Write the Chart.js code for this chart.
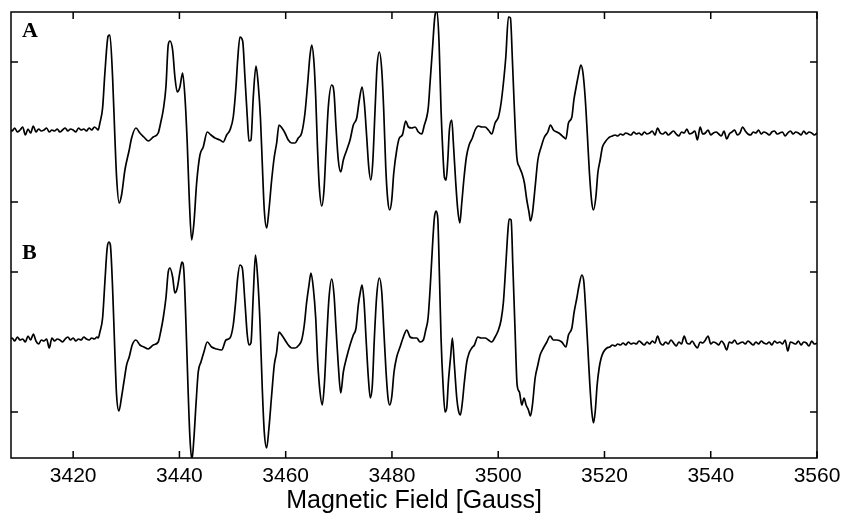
<!DOCTYPE html>
<html>
<head>
<meta charset="utf-8">
<script src="https://cdn.jsdelivr.net/npm/chart.js@4.4.1/dist/chart.umd.min.js"></script>
<style>
  html, body { margin: 0; padding: 0; background: #ffffff; }
  #wrap { width: 844px; height: 516px; }
</style>
</head>
<body>
<div id="wrap"><canvas id="eprChart"></canvas></div>
<script>
// Field axis (Gauss) and tick labels
const fieldMin = 3408.3;
const fieldMax = 3560;
const fieldTicks = [3420, 3440, 3460, 3480, 3500, 3520, 3540, 3560];
const ampTicks = [-70, 70]; // unlabeled tick marks on each trace

// Flat noisy baseline below the signal
const baseLeftField = [
  3408, 3408.5, 3409, 3409.5, 3410, 3410.5, 3411, 3411.5, 3412, 3412.5,
  3413, 3413.5, 3414, 3414.5, 3415, 3415.5, 3416, 3416.5, 3417, 3417.5,
  3418, 3418.5, 3419, 3419.5, 3420, 3420.5, 3421, 3421.5, 3422, 3422.5,
  3423, 3423.5, 3424, 3424.5
];
const baseLeftA = [
  3, 1, 4, 0, 2, 5, -3, 3, -1, 6,
  0, 3, 1, 2, 4, 0, 2, 1, 3, 0,
  2, 4, 1, 3, 2, 0, 4, 2, 3, 1,
  4, 2, 5, 3
];
const baseLeftB = [
  3, 4, 1, 5, 2, 3, 0, 6, 2, 8,
  1, -2, 2, 1, 3, -6, 4, 1, 3, 2,
  0, 3, 5, 2, 4, 1, 3, 2, 5, 3,
  2, 4, 3, 5
];

// Flat noisy baseline above the signal
const baseRightField = [
  3521, 3521.5, 3522, 3522.5, 3523, 3523.5, 3524, 3524.5, 3525, 3525.5,
  3526, 3526.5, 3527, 3527.5, 3528, 3528.5, 3529, 3529.5, 3530, 3530.5,
  3531, 3531.5, 3532, 3532.5, 3533, 3533.5, 3534, 3534.5, 3535, 3535.5,
  3536, 3536.5, 3537, 3537.5, 3538, 3538.5, 3539, 3539.5, 3540, 3540.5,
  3541, 3541.5, 3542, 3542.5, 3543, 3543.5, 3544, 3544.5, 3545, 3545.5,
  3546, 3546.5, 3547, 3547.5, 3548, 3548.5, 3549, 3549.5, 3550, 3550.5,
  3551, 3551.5, 3552, 3552.5, 3553, 3553.5, 3554, 3554.5, 3555, 3555.5,
  3556, 3556.5, 3557, 3557.5, 3558, 3558.5, 3559, 3559.5, 3560
];
const baseRightA = [
  -5, -4, -3, -4, -2, -3, -1, -2, -3, 0,
  -2, -1, -3, 0, -2, -1, 1, -3, 4, -1,
  -2, 0, -3, -1, 1, -2, -4, 0, -1, 3,
  -2, -1, 1, -8, 5, -2, -1, 2, -3, -1,
  0, -2, -4, 1, -7, -2, 0, 2, -3, -1,
  5, 1, -2, -3, 0, -1, 2, -2, 0, -1,
  -3, 0, 1, -2, -1, 0, -4, -1, 1, -2,
  0, -1, -3, 1, -2, 0, -1, -3, -1
];
const baseRightB = [
  -5, -3, -4, -2, -3, -1, -3, 0, -2, -1,
  -2, 1, -1, -3, 0, -2, 1, -1, 6, -1,
  -3, 0, -2, 2, -1, -4, 0, -2, 6, -1,
  -2, 1, -3, -6, 0, -1, 2, 6, -2, 0,
  -1, -3, 1, -2, -8, 0, -1, 2, -2, -1,
  0, -2, 1, -1, -3, 0, -2, 1, -1, -2,
  0, -3, 1, -1, 0, -2, 2, -9, 0, -1,
  -2, 1, -3, 0, -1, -4, 1, -2, -1
];

// Spectrum A: hyperfine lines
const sigFieldA = [
  3424.71, 3425.03, 3425.54, 3425.97, 3426.59, 3426.91, 3427.42, 3427.85, 3428.17, 3428.66,
  3429.11, 3429.74, 3430.55, 3431.00, 3431.81, 3432.56, 3433.31, 3434.12, 3435.07, 3436.01,
  3436.46, 3436.95, 3437.46, 3437.89, 3438.21, 3438.72, 3439.15, 3439.59, 3440.09, 3440.60,
  3441.04, 3441.47, 3441.84, 3442.30, 3442.73, 3443.24, 3443.86, 3444.48, 3445.24, 3445.93,
  3446.69, 3447.63, 3448.25, 3448.89, 3449.51, 3450.13, 3450.64, 3450.96, 3451.39, 3451.90,
  3452.33, 3452.77, 3453.09, 3453.46, 3453.90, 3454.41, 3454.84, 3455.25, 3455.59, 3455.97,
  3456.42, 3456.85, 3457.36, 3457.85, 3458.30, 3458.74, 3459.30, 3459.87, 3460.49, 3461.13,
  3461.75, 3462.37, 3463.01, 3463.63, 3464.14, 3464.58, 3464.90, 3465.33, 3465.65, 3465.95,
  3466.33, 3466.78, 3467.21, 3467.59, 3468.02, 3468.66, 3469.10, 3469.47, 3469.90, 3470.36,
  3470.85, 3471.49, 3472.11, 3472.73, 3473.37, 3473.86, 3474.37, 3474.80, 3475.25, 3475.63,
  3476.01, 3476.38, 3476.82, 3477.19, 3477.63, 3478.08, 3478.45, 3478.83, 3479.21, 3479.58,
  3479.96, 3480.34, 3480.90, 3481.39, 3481.96, 3482.60, 3483.09, 3483.73, 3484.35, 3484.97,
  3485.61, 3486.10, 3486.55, 3486.85, 3487.17, 3487.61, 3488.11, 3488.49, 3488.87, 3489.24,
  3489.56, 3489.87, 3490.19, 3490.51, 3490.81, 3491.26, 3491.56, 3492.01, 3492.39, 3492.77,
  3493.14, 3493.58, 3494.01, 3494.52, 3495.14, 3495.65, 3496.27, 3496.91, 3497.53, 3498.15,
  3498.79, 3499.41, 3500.04, 3500.54, 3500.98, 3501.43, 3501.92, 3502.30, 3502.67, 3503.05,
  3503.50, 3503.99, 3504.44, 3504.93, 3505.38, 3505.82, 3506.06, 3506.44, 3506.95, 3507.46,
  3508.08, 3508.70, 3509.34, 3509.83, 3510.39, 3511.03, 3511.65, 3512.28, 3512.73, 3513.22,
  3513.86, 3514.24, 3514.67, 3515.10, 3515.55, 3515.93, 3516.36, 3516.80, 3517.17, 3517.62,
  3517.93, 3518.38, 3518.75, 3519.19, 3519.62, 3520.13, 3520.75
];
const sigA = [
  2, 9, 24, 59, 96, 97, 55, -5, -45, -71,
  -63, -38, -18, -6, 4, -1, -5, -9, -5, -1,
  9, 22, 45, 87, 91, 82, 55, 40, 45, 59,
  35, -11, -65, -108, -91, -51, -23, -15, 0, -3,
  -6, -8, -10, -3, 2, 15, 45, 72, 95, 91,
  55, 15, -9, -8, 35, 66, 47, 14, -31, -78,
  -96, -78, -48, -25, -11, 7, 4, -1, -8, -11,
  -11, -6, -1, 19, 49, 77, 87, 69, 35, -11,
  -55, -74, -58, -18, 25, 47, 39, 5, -28, -40,
  -28, -18, -8, 7, 14, 32, 45, 29, -5, -35,
  -48, -31, 22, 65, 80, 62, 22, -35, -68, -78,
  -68, -41, -18, -6, -3, 11, 5, 4, 5, 0,
  -2, 7, 15, 25, 49, 82, 117, 121, 89, 22,
  -18, -45, -48, -28, 2, 12, -11, -51, -78, -91,
  -71, -45, -25, -13, -6, 2, 6, 5, 5, 2,
  -2, 9, 15, 29, 49, 75, 115, 114, 72, 22,
  -25, -35, -41, -51, -68, -81, -89, -81, -55, -28,
  -15, -5, 0, 7, 2, 0, -2, -5, -7, 9,
  15, 32, 45, 57, 67, 60, 35, -5, -41, -71,
  -78, -65, -41, -28, -15, -10, -6
];

// Spectrum B
const sigFieldB = [
  3424.71, 3425.03, 3425.54, 3425.97, 3426.40, 3426.72, 3427.00, 3427.42, 3427.80, 3428.17,
  3428.61, 3429.11, 3429.55, 3430.06, 3430.55, 3431.11, 3431.81, 3432.56, 3433.31, 3434.12,
  3435.07, 3436.01, 3436.46, 3436.95, 3437.46, 3437.89, 3438.21, 3438.72, 3439.15, 3439.59,
  3440.09, 3440.47, 3440.85, 3441.22, 3441.60, 3441.98, 3442.35, 3442.73, 3443.11, 3443.54,
  3444.05, 3444.61, 3445.24, 3446.06, 3447.00, 3447.95, 3448.76, 3449.51, 3450.13, 3450.58,
  3450.96, 3451.39, 3451.83, 3452.33, 3452.77, 3453.09, 3453.46, 3453.90, 3454.31, 3454.73,
  3455.16, 3455.59, 3455.97, 3456.42, 3456.85, 3457.36, 3457.85, 3458.30, 3458.74, 3459.25,
  3459.87, 3460.49, 3461.13, 3461.75, 3462.50, 3463.01, 3463.50, 3463.95, 3464.39, 3464.76,
  3465.20, 3465.65, 3466.03, 3466.46, 3466.89, 3467.27, 3467.72, 3468.15, 3468.66, 3469.10,
  3469.47, 3469.90, 3470.36, 3470.85, 3471.49, 3472.11, 3472.73, 3473.24, 3473.67, 3474.05,
  3474.37, 3474.75, 3475.12, 3475.56, 3475.93, 3476.31, 3476.69, 3477.14, 3477.63, 3478.08,
  3478.45, 3478.89, 3479.26, 3479.58, 3479.96, 3480.39, 3480.90, 3481.52, 3482.15, 3482.79,
  3483.41, 3484.03, 3484.67, 3485.29, 3485.91, 3486.36, 3486.80, 3487.17, 3487.61, 3487.98,
  3488.30, 3488.62, 3488.92, 3489.24, 3489.62, 3489.99, 3490.31, 3490.62, 3491.07, 3491.37,
  3491.75, 3492.20, 3492.50, 3492.88, 3493.26, 3493.63, 3494.08, 3494.52, 3495.03, 3495.52,
  3496.16, 3496.78, 3497.53, 3498.15, 3498.79, 3499.41, 3500.04, 3500.54, 3500.98, 3501.43,
  3501.81, 3502.05, 3502.43, 3502.75, 3503.18, 3503.56, 3503.99, 3504.44, 3504.87, 3505.25,
  3505.69, 3506.06, 3506.44, 3506.95, 3507.46, 3507.89, 3508.51, 3509.15, 3509.77, 3510.39,
  3511.03, 3511.97, 3512.73, 3513.22, 3513.86, 3514.29, 3514.80, 3515.23, 3515.74, 3516.12,
  3516.49, 3516.87, 3517.25, 3517.62, 3517.93, 3518.25, 3518.62, 3519.00, 3519.38, 3519.81,
  3520.45
];
const sigB = [
  4, 10, 24, 60, 94, 100, 97, 54, -3, -53,
  -69, -55, -40, -23, -15, -3, 2, -3, -5, -7,
  -3, 0, 10, 24, 44, 70, 74, 65, 49, 54,
  70, 80, 70, 20, -43, -96, -118, -96, -63, -30,
  -20, -10, 0, -5, -7, -8, 2, 4, 17, 40,
  64, 77, 74, 40, 7, -3, -1, 47, 87, 64,
  20, -46, -90, -106, -86, -53, -23, -10, 10, 7,
  2, -3, -6, -6, -3, 2, 17, 40, 57, 69,
  54, 24, -20, -50, -63, -43, 4, 44, 63, 47,
  14, -23, -51, -30, -15, -3, 7, 14, 37, 50,
  57, 40, 4, -36, -56, -43, 4, 47, 64, 50,
  14, -30, -56, -63, -55, -30, -15, -5, 5, 12,
  5, 4, 4, 0, 2, 12, 24, 52, 94, 124,
  131, 124, 70, 4, -43, -70, -66, -40, -13, 4,
  -23, -56, -68, -73, -60, -40, -20, -11, -6, -3,
  5, 4, 4, 2, 0, 5, 12, 22, 40, 77,
  110, 123, 122, 77, 10, -43, -50, -63, -56, -63,
  -68, -74, -63, -36, -23, -13, -6, 0, 6, 2,
  2, 0, -5, 7, 14, 30, 44, 57, 67, 60,
  30, -6, -43, -70, -81, -70, -43, -26, -16, -10,
  -6
];

// glue baseline + signal + baseline into one trace
function buildTrace(leftVals, sigField, sigVals, rightVals) {
  const pts = [];
  baseLeftField.forEach((f, i) => pts.push({ x: f, y: leftVals[i] }));
  sigField.forEach((f, i) => pts.push({ x: f, y: sigVals[i] }));
  baseRightField.forEach((f, i) => pts.push({ x: f, y: rightVals[i] }));
  return pts;
}

// frame, inward tick marks and the panel letters
const framePlugin = {
  id: "frame",
  afterDatasetsDraw(chart) {
    const { ctx, chartArea: a, scales } = chart;
    ctx.save();
    ctx.strokeStyle = "#000";
    ctx.lineWidth = 1.5;
    ctx.strokeRect(a.left, a.top, a.right - a.left, a.bottom - a.top);
    ctx.beginPath();
    scales.x.ticks.forEach((t) => {
      const px = scales.x.getPixelForValue(t.value);
      ctx.moveTo(px, a.bottom);
      ctx.lineTo(px, a.bottom - 7);
      ctx.moveTo(px, a.top);
      ctx.lineTo(px, a.top + 7);
    });
    ["yA", "yB"].forEach((id) => {
      scales[id].ticks.forEach((t) => {
        const py = scales[id].getPixelForValue(t.value);
        ctx.moveTo(a.left, py);
        ctx.lineTo(a.left + 7, py);
        ctx.moveTo(a.right, py);
        ctx.lineTo(a.right - 7, py);
      });
    });
    ctx.stroke();

    ctx.fillStyle = "#000";
    ctx.font = "bold 22px 'Liberation Serif', 'Times New Roman', serif";
    ctx.textBaseline = "alphabetic";
    ctx.fillText("A", a.left + 11, a.top + 25);
    ctx.fillText("B", a.left + 11, a.top + 247);
    ctx.restore();
  },
};

const sansFont = "'Liberation Sans', Arial, Helvetica, sans-serif";

const traceStyle = {
  borderColor: "#000",
  borderWidth: 1.7,
  pointRadius: 0,
  cubicInterpolationMode: "monotone",
  fill: false,
};

new Chart(document.getElementById("eprChart"), {
  type: "line",
  data: {
    datasets: [
      {
        label: "A",
        data: buildTrace(baseLeftA, sigFieldA, sigA, baseRightA),
        yAxisID: "yA",
        ...traceStyle,
      },
      {
        label: "B",
        data: buildTrace(baseLeftB, sigFieldB, sigB, baseRightB),
        yAxisID: "yB",
        ...traceStyle,
      },
    ],
  },
  options: {
    responsive: true,
    maintainAspectRatio: false,
    animation: false,
    events: [],
    layout: { padding: { left: 11, right: 27, top: 12, bottom: 0 } },
    plugins: {
      legend: { display: false },
      tooltip: { enabled: false },
    },
    scales: {
      x: {
        type: "linear",
        min: fieldMin,
        max: fieldMax,
        grid: { display: false, drawTicks: false },
        border: { display: false },
        afterBuildTicks: (s) => {
          s.ticks = fieldTicks.map((v) => ({ value: v }));
        },
        afterFit: (s) => {
          s.height = 58;
          // last label may hang into the right margin
          s.paddingLeft = 0;
          s.paddingRight = 20;
        },
        ticks: {
          color: "#000",
          font: { family: sansFont, size: 21 },
          padding: 6,
          maxRotation: 0,
          autoSkip: false,
          callback: (v) => String(v),
        },
        title: {
          display: true,
          text: "Magnetic Field [Gauss]",
          color: "#000",
          font: { family: sansFont, size: 25 },
          padding: { top: 0, bottom: 0 },
        },
      },
      yA: {
        type: "linear",
        position: "left",
        min: -326,
        max: 120,
        grid: { display: false, drawTicks: false },
        border: { display: false },
        ticks: { display: false },
        afterBuildTicks: (s) => {
          s.ticks = ampTicks.map((v) => ({ value: v }));
        },
        afterFit: (s) => {
          s.width = 0;
        },
      },
      yB: {
        type: "linear",
        position: "right",
        min: -116,
        max: 330,
        grid: { display: false, drawTicks: false },
        border: { display: false },
        ticks: { display: false },
        afterBuildTicks: (s) => {
          s.ticks = ampTicks.map((v) => ({ value: v }));
        },
        afterFit: (s) => {
          s.width = 0;
        },
      },
    },
  },
  plugins: [framePlugin],
});
</script>
</body>
</html>
